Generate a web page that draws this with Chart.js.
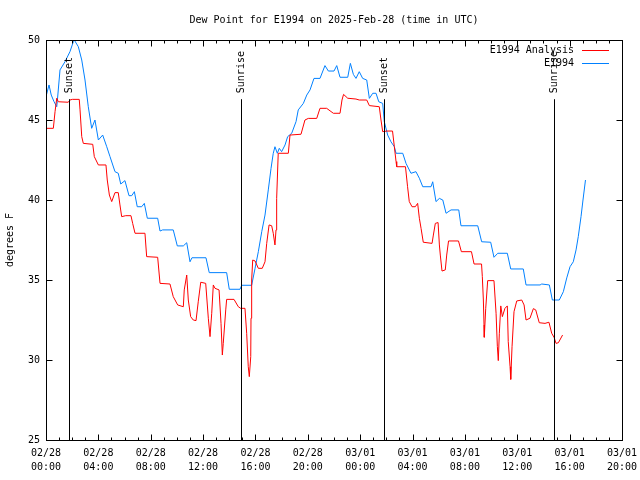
<!DOCTYPE html>
<html>
<head>
<meta charset="utf-8">
<title>Dew Point for E1994</title>
<script src="https://cdn.jsdelivr.net/npm/chart.js@4"></script>
<style>
    html, body { margin: 0; padding: 0; background: #fff; }
    #grafico { display: block; }
</style>
</head>
<body>
<canvas id="grafico" width="640" height="480"></canvas>
<script>
// hours since 02/28 00:00 UTC
const analysisHours = [0.00, 0.56, 0.69, 0.82, 0.94, 1.70, 1.83, 2.01, 2.54, 2.60, 2.73, 2.85, 3.57, 3.69, 4.00, 4.58, 4.68, 4.84, 5.02, 5.27,
    5.52, 5.65, 5.78, 6.09, 6.49, 6.62, 6.80, 7.56, 7.69, 8.53, 8.71, 9.47, 9.72, 10.06, 10.49, 10.56, 10.75, 10.87, 11.05, 11.25,
    11.46, 11.63, 11.82, 12.20, 12.40, 12.53, 12.66, 12.78, 12.91, 13.22, 13.37, 13.47, 13.54, 13.73, 13.80, 14.36, 14.69, 14.87, 15.20, 15.33,
    15.45, 15.53, 15.64, 15.66, 15.71, 15.79, 15.97, 16.22, 16.52, 16.73, 16.86, 17.04, 17.24, 17.36, 17.49, 17.57, 17.62, 17.74, 18.51, 18.64,
    19.48, 19.78, 20.04, 20.68, 20.93, 21.44, 21.95, 22.46, 22.61, 22.73, 23.05, 23.68, 23.93, 24.50, 24.70, 25.46, 25.59, 25.72, 26.03, 26.47,
    26.61, 26.74, 26.79, 27.46, 27.62, 27.75, 27.96, 28.21, 28.39, 28.52, 28.65, 28.82, 29.49, 29.59, 29.74, 29.95, 30.05, 30.12, 30.25, 30.50,
    30.61, 30.75, 31.51, 31.73, 32.50, 32.70, 33.27, 33.33, 33.41, 33.46, 33.48, 33.59, 33.74, 34.22, 34.38, 34.48, 34.55, 34.63, 34.74, 34.86,
    35.06, 35.24, 35.31, 35.45, 35.50, 35.60, 35.75, 35.96, 36.34, 36.52, 36.67, 36.97, 37.23, 37.41, 37.68, 38.12, 38.42, 38.63, 38.81, 38.96,
    39.14, 39.46];
const analysisValues = [44.48, 44.48, 45.52, 46.36, 46.14, 46.11, 46.25, 46.29, 46.29, 45.63, 43.96, 43.54, 43.48, 42.71, 42.19, 42.19, 41.25, 40.31, 39.90, 40.46,
    40.46, 39.69, 38.96, 39.02, 39.02, 38.54, 37.92, 37.92, 36.46, 36.42, 34.79, 34.75, 33.96, 33.44, 33.33, 34.38, 35.31, 33.75, 32.71, 32.50,
    32.46, 33.64, 34.86, 34.79, 32.61, 31.46, 32.92, 34.69, 34.48, 34.38, 32.29, 30.31, 31.04, 33.13, 33.79, 33.79, 33.33, 33.23, 33.23, 31.67,
    29.58, 28.96, 30.21, 32.61, 35.00, 36.25, 36.19, 35.73, 35.73, 36.14, 37.29, 38.44, 38.39, 37.92, 37.19, 38.13, 40.10, 42.92, 42.92, 44.06,
    44.11, 45.00, 45.10, 45.10, 45.73, 45.73, 45.42, 45.42, 46.25, 46.60, 46.36, 46.31, 46.25, 46.25, 45.90, 45.83, 45.00, 44.27, 44.31, 44.31,
    43.33, 42.40, 42.08, 42.08, 40.83, 39.90, 39.58, 39.58, 39.79, 38.86, 38.23, 37.36, 37.29, 37.81, 38.54, 38.59, 37.19, 36.56, 35.56, 35.63,
    36.56, 37.44, 37.44, 36.77, 36.77, 36.00, 36.00, 35.21, 33.75, 32.19, 31.42, 33.23, 34.96, 34.96, 32.92, 30.83, 29.96, 31.67, 33.38, 32.71,
    33.23, 33.38, 31.15, 29.58, 28.79, 30.83, 33.02, 33.69, 33.75, 33.44, 32.50, 32.61, 33.21, 33.13, 32.33, 32.29, 32.36, 31.67, 31.42, 31.04,
    31.08, 31.56];

const obsHours = [0.00, 0.23, 0.40, 0.61, 0.82, 0.86, 1.07, 1.45, 1.83, 2.09, 2.16, 2.47, 2.73, 2.98, 3.23, 3.49, 3.74, 4.00, 4.33, 4.64,
    4.89, 5.27, 5.52, 5.71, 6.03, 6.34, 6.55, 6.75, 6.97, 7.31, 7.51, 7.74, 8.53, 8.71, 8.91, 9.72, 10.03, 10.49, 10.75, 11.00,
    11.15, 12.22, 12.47, 13.80, 14.00, 14.82, 14.95, 15.71, 15.97, 16.22, 16.48, 16.73, 16.98, 17.19, 17.36, 17.49, 17.67, 17.82, 18.00, 18.26,
    18.46, 18.77, 19.10, 19.27, 19.66, 19.92, 20.17, 20.47, 20.93, 21.31, 21.57, 22.00, 22.21, 22.46, 23.05, 23.25, 23.48, 23.68, 23.93, 24.19,
    24.50, 24.70, 24.96, 25.21, 25.42, 25.72, 25.84, 26.10, 26.35, 26.61, 26.74, 27.25, 27.50, 27.88, 28.26, 28.52, 28.78, 29.41, 29.54, 29.79,
    30.05, 30.31, 30.56, 30.94, 31.53, 31.70, 32.98, 33.28, 33.97, 34.22, 34.51, 35.24, 35.50, 36.46, 36.67, 37.74, 37.87, 38.45, 38.68, 39.21,
    39.52, 39.78, 40.03, 40.28, 40.49, 40.66, 40.87, 41.02, 41.21];
const obsValues = [46.46, 47.19, 46.56, 46.15, 45.83, 46.14, 48.13, 48.64, 49.27, 49.90, 50.00, 49.58, 48.75, 47.50, 45.83, 44.48, 45.00, 43.75, 44.06, 43.33,
    42.71, 41.77, 41.67, 41.00, 41.21, 40.27, 40.27, 40.52, 39.58, 39.58, 39.79, 38.86, 38.86, 38.06, 38.13, 38.13, 37.13, 37.13, 37.33, 36.14,
    36.39, 36.39, 35.46, 35.46, 34.42, 34.42, 34.67, 34.67, 35.73, 36.77, 38.02, 39.06, 40.63, 41.98, 42.92, 43.33, 42.92, 43.23, 43.02, 43.44,
    43.96, 44.17, 44.90, 45.63, 46.04, 46.56, 46.88, 47.60, 47.60, 48.40, 48.06, 48.06, 48.40, 47.67, 47.67, 48.54, 47.85, 47.60, 48.02, 47.60,
    47.50, 46.35, 46.67, 46.67, 46.14, 46.04, 44.90, 44.06, 43.64, 43.33, 42.92, 42.92, 42.29, 41.67, 41.77, 41.36, 40.83, 40.83, 41.14, 39.90,
    40.10, 40.00, 39.17, 39.38, 39.38, 38.39, 38.39, 37.39, 37.36, 36.42, 36.67, 36.67, 35.69, 35.69, 34.69, 34.69, 34.75, 34.69, 33.75, 33.75,
    34.27, 35.13, 35.83, 36.14, 36.88, 37.71, 38.96, 40.00, 41.25];

const eventHours = [1.78, 14.92, 25.80, 38.80];
const eventLabels = ["Sunset", "Sunrise", "Sunset", "Sunrise"];

const seriesNames = ["E1994 Analysis", "E1994"];
const seriesColors = ["#ff0000", "#0080ff"];
const chartTitle = "Dew Point for E1994 on 2025-Feb-28 (time in UTC)";
const yTitle = "degrees F";
const dayLabels = ["02/28", "03/01"];

const fonte = "DejaVu Sans Mono";

function pares(xs, ys) {
    return xs.map((x, i) => ({ x: x, y: ys[i] }));
}

// moldura, marcas para dentro, nascer/pôr do sol, legenda e títulos
const extrasPlugin = {
    id: "extras",
    afterDatasetsDraw(chart) {
        const ctx = chart.ctx;
        const a = chart.chartArea;
        const sx = chart.scales.x;
        const sy = chart.scales.y;
        const L = Math.round(a.left) + 0.5, R = Math.round(a.right) + 0.5;
        const T = Math.round(a.top) + 0.5, B = Math.round(a.bottom) + 0.5;

        ctx.save();
        ctx.strokeStyle = "#000";
        ctx.lineWidth = 1;

        // eventos
        ctx.fillStyle = "#000";
        ctx.font = "10px '" + fonte + "'";
        eventHours.forEach((h, i) => {
            const px = Math.round(sx.getPixelForValue(h)) + 0.5;
            const topo = sy.getPixelForValue(46.3);
            ctx.beginPath();
            ctx.moveTo(px, B);
            ctx.lineTo(px, topo);
            ctx.stroke();
            ctx.save();
            ctx.translate(px, topo - 6);
            ctx.rotate(-Math.PI / 2);
            ctx.textAlign = "left";
            ctx.textBaseline = "middle";
            ctx.fillText(eventLabels[i], 0, 0);
            ctx.restore();
        });

        // moldura
        ctx.strokeRect(L, T, R - L, B - T);

        // marcas
        ctx.beginPath();
        for (let h = 0; h <= 44; h++) {
            const px = Math.round(sx.getPixelForValue(h)) + 0.5;
            const len = h % 4 === 0 ? 6 : 3;
            ctx.moveTo(px, B); ctx.lineTo(px, B - len);
            ctx.moveTo(px, T); ctx.lineTo(px, T + len);
        }
        for (let v = 25; v <= 50; v += 5) {
            const py = Math.round(sy.getPixelForValue(v)) + 0.5;
            ctx.moveTo(L, py); ctx.lineTo(L + 6, py);
            ctx.moveTo(R, py); ctx.lineTo(R - 6, py);
        }
        ctx.stroke();

        // legenda
        ctx.textAlign = "right";
        ctx.textBaseline = "middle";
        seriesNames.forEach((nome, i) => {
            const y = Math.round(a.top + 10 + i * 12.5) + 0.5;
            ctx.fillStyle = "#000";
            ctx.fillText(nome, a.right - 48, y);
            ctx.strokeStyle = seriesColors[i];
            ctx.beginPath();
            ctx.moveTo(a.right - 40, y);
            ctx.lineTo(a.right - 13, y);
            ctx.stroke();
        });

        // títulos
        ctx.fillStyle = "#000";
        ctx.textAlign = "center";
        ctx.fillText(chartTitle, 334, 20);
        ctx.save();
        ctx.translate(10, (a.top + a.bottom) / 2);
        ctx.rotate(-Math.PI / 2);
        ctx.fillText(yTitle, 0, 0);
        ctx.restore();
        ctx.restore();
    }
};

const ctx = document.getElementById("grafico").getContext("2d");

new Chart(ctx, {
    type: "line",
    data: {
        datasets: [
            {
                label: seriesNames[0],
                data: pares(analysisHours, analysisValues),
                borderColor: seriesColors[0],
                borderWidth: 1,
                pointRadius: 0,
                tension: 0,
                fill: false
            },
            {
                label: seriesNames[1],
                data: pares(obsHours, obsValues),
                borderColor: seriesColors[1],
                borderWidth: 1,
                pointRadius: 0,
                tension: 0,
                fill: false
            }
        ]
    },
    options: {
        responsive: false,
        animation: false,
        events: [],
        layout: { padding: { top: 40, right: 18, left: 0, bottom: 0 } },
        plugins: {
            legend: { display: false },
            title: { display: false },
            tooltip: { enabled: false }
        },
        scales: {
            x: {
                type: "linear",
                min: 0,
                max: 44,
                afterFit: (s) => {
                    s.height = 40;
                    s.paddingLeft = 0;
                    s.paddingRight = 0;
                },
                grid: { display: true, drawOnChartArea: false, drawTicks: false },
                border: { display: false },
                ticks: {
                    stepSize: 4,
                    autoSkip: false,
                    maxRotation: 0,
                    padding: 6,
                    color: "#000",
                    font: { family: fonte, size: 10, lineHeight: 1.4 },
                    callback: function (value) {
                        const dia = dayLabels[Math.floor(value / 24)];
                        const hora = String(value % 24).padStart(2, "0") + ":00";
                        return [dia, hora];
                    }
                }
            },
            y: {
                min: 25,
                max: 50,
                afterFit: (s) => { s.width = 46; },
                grid: { display: true, drawOnChartArea: false, drawTicks: false },
                border: { display: false },
                ticks: {
                    stepSize: 5,
                    padding: 6,
                    color: "#000",
                    font: { family: fonte, size: 10 }
                }
            }
        }
    },
    plugins: [extrasPlugin]
});
</script>
</body>
</html>
